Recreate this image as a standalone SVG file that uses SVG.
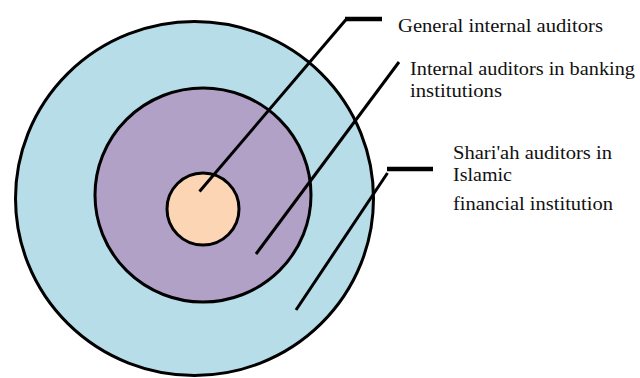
<svg xmlns="http://www.w3.org/2000/svg" width="640" height="378" viewBox="0 0 640 378">
<style>
.c{stroke:#000;stroke-width:3}
.l{fill:none;stroke:#000;stroke-width:3}
.h{fill:none;stroke:#000;stroke-width:4.5}
text{font-family:"Liberation Serif","Times New Roman",serif;font-size:19px;fill:#111}
</style>
<rect width="640" height="378" fill="#fff"/>
<g id="outer"><ellipse class="c" cx="194.5" cy="198.5" rx="179" ry="177" fill="#B7DDE8"/></g>
<g id="middle"><ellipse class="c" cx="203" cy="195" rx="108" ry="107" fill="#B2A1C7"/></g>
<g id="inner"><ellipse class="c" cx="203" cy="209" rx="36" ry="36" fill="#FCD5B5"/></g>
<g id="connectors">
<polyline class="l" points="199.5,191.5 346.5,19"/>
<line class="h" x1="345" y1="19" x2="382" y2="19"/>
<line class="l" x1="256" y1="254" x2="399" y2="62"/>
<polyline class="l" points="296,310 387.5,173"/>
<line class="h" x1="387" y1="169" x2="433" y2="169"/>
</g>
<g id="labels">
<text x="398" y="32" textLength="205" lengthAdjust="spacingAndGlyphs">General internal auditors</text>
<text x="410" y="75" textLength="225" lengthAdjust="spacingAndGlyphs">Internal auditors in banking</text>
<text x="410" y="97" textLength="92" lengthAdjust="spacingAndGlyphs">institutions</text>
<text x="453" y="159" textLength="159" lengthAdjust="spacingAndGlyphs">Shari'ah auditors in</text>
<text x="453" y="181" textLength="59" lengthAdjust="spacingAndGlyphs">Islamic</text>
<text x="453" y="210" textLength="160" lengthAdjust="spacingAndGlyphs">financial institution</text>
</g>
</svg>
